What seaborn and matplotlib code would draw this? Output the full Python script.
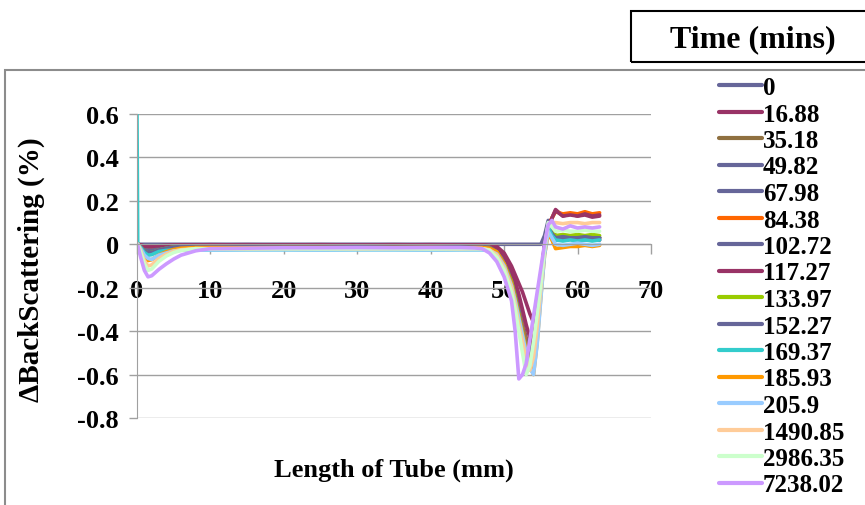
import numpy as np
import pandas as pd
import matplotlib
matplotlib.use("Agg")
import matplotlib.pyplot as plt
import seaborn as sns
from matplotlib.patches import Rectangle

# positions along the tube (mm), shared by every scan
length_mm = [0, 0.1, 0.5, 1, 1.5, 2, 2.5, 3, 4, 5, 6, 8, 10, 15, 20, 25, 30, 35, 40, 44,
             46, 47, 48, 49, 50, 51, 51.5, 52, 52.5, 53, 53.5, 54, 54.5, 55, 55.5, 56, 56.5,
             57, 58, 59, 60, 61, 62, 63]

times = ['0', '16.88', '35.18', '49.82', '67.98', '84.38', '102.72', '117.27', '133.97',
         '152.27', '169.37', '185.93', '205.9', '1490.85', '2986.35', '7238.02']

colors = ['#666699', '#993366', '#8f7040', '#666699', '#666699', '#ff6600', '#666699',
          '#993366', '#99cc00', '#666699', '#33cccc', '#ff9900', '#99ccff', '#ffcc99',
          '#ccffcc', '#cc99ff']

bs_0 = [0, 0, 0, 0, 0, 0, 0, 0, 0, 0, 0,
        0, 0, 0, 0, 0, 0, 0, 0, 0, 0,
        0, 0, 0, 0, 0, 0, 0, 0, 0, 0, 0, 0, 0, 0.04, 0.11, 0.05,
        0.03, 0.02, 0.025, 0.02, 0.025, 0.02, 0.02]
bs_16_88 = [0, 0, -0.003, -0.008, -0.01, -0.01, -0.008, -0.007, -0.005, -0.004, -0.003,
            -0.003, -0.003, -0.002, -0.003, -0.003, -0.003, -0.002, -0.003, -0.003, -0.003,
            -0.003, -0.005, -0.01, -0.04, -0.1, -0.14, -0.18, -0.22, -0.27, -0.32, -0.36, -0.3, -0.15, 0.0, 0.08, 0.12,
            0.16, 0.13, 0.14, 0.13, 0.135, 0.125, 0.13]
bs_35_18 = [0, 0, -0.005, -0.011, -0.015, -0.014, -0.012, -0.01, -0.008, -0.007, -0.006,
            -0.006, -0.005, -0.005, -0.006, -0.005, -0.005, -0.006, -0.005, -0.005, -0.006,
            -0.006, -0.008, -0.02, -0.06, -0.14, -0.2, -0.28, -0.36, -0.43, -0.48, -0.44, -0.32, -0.16, -0.01, 0.08, 0.07,
            0.04, 0.03, 0.035, 0.03, 0.03, 0.035, 0.03]
bs_49_82 = [0, 0, -0.006, -0.015, -0.02, -0.019, -0.016, -0.013, -0.01, -0.008, -0.007,
            -0.007, -0.006, -0.006, -0.007, -0.006, -0.006, -0.007, -0.006, -0.006, -0.007,
            -0.007, -0.01, -0.025, -0.07, -0.15, -0.21, -0.29, -0.37, -0.45, -0.5, -0.46, -0.33, -0.17, -0.01, 0.1, 0.06,
            0.03, 0.025, 0.03, 0.025, 0.03, 0.025, 0.03]
bs_67_98 = [0, 0, -0.006, -0.015, -0.02, -0.019, -0.016, -0.013, -0.01, -0.008, -0.007,
            -0.007, -0.007, -0.006, -0.007, -0.007, -0.006, -0.007, -0.007, -0.006, -0.007,
            -0.007, -0.01, -0.025, -0.07, -0.16, -0.22, -0.3, -0.38, -0.46, -0.52, -0.47, -0.34, -0.17, -0.02, 0.09, 0.05,
            0.02, 0.02, 0.025, 0.02, 0.02, 0.025, 0.02]
bs_84_38 = [0, 0, -0.009, -0.022, -0.03, -0.028, -0.024, -0.02, -0.015, -0.011, -0.009,
            -0.009, -0.008, -0.008, -0.009, -0.008, -0.008, -0.009, -0.008, -0.008, -0.009,
            -0.009, -0.012, -0.03, -0.08, -0.16, -0.22, -0.3, -0.38, -0.46, -0.53, -0.55, -0.4, -0.2, -0.03, 0.08, 0.12,
            0.15, 0.14, 0.145, 0.14, 0.15, 0.14, 0.145]
bs_102_72 = [0, 0, -0.009, -0.022, -0.03, -0.028, -0.024, -0.02, -0.015, -0.011, -0.009,
             -0.009, -0.009, -0.008, -0.009, -0.009, -0.008, -0.009, -0.009, -0.008, -0.009,
             -0.009, -0.012, -0.03, -0.08, -0.16, -0.22, -0.3, -0.39, -0.47, -0.53, -0.5, -0.36, -0.18, -0.02, 0.09, 0.06,
             0.035, 0.03, 0.035, 0.03, 0.03, 0.035, 0.03]
bs_117_27 = [0, 0, -0.003, -0.008, -0.01, -0.01, -0.008, -0.007, -0.005, -0.004, -0.003,
             -0.003, -0.002, -0.003, -0.003, -0.002, -0.003, -0.003, -0.002, -0.003, -0.003,
             -0.003, -0.006, -0.015, -0.05, -0.12, -0.17, -0.23, -0.3, -0.37, -0.43, -0.45, -0.34, -0.17, -0.01, 0.08, 0.12,
             0.155, 0.13, 0.135, 0.13, 0.14, 0.13, 0.135]
bs_133_97 = [0, 0, -0.012, -0.03, -0.04, -0.038, -0.032, -0.026, -0.018, -0.013, -0.01,
             -0.01, -0.01, -0.009, -0.01, -0.01, -0.009, -0.01, -0.01, -0.009, -0.01,
             -0.01, -0.014, -0.035, -0.09, -0.17, -0.24, -0.32, -0.4, -0.48, -0.55, -0.52, -0.37, -0.19, -0.02, 0.09, 0.06,
             0.04, 0.045, 0.04, 0.045, 0.04, 0.045, 0.04]
bs_152_27 = [0, 0, -0.012, -0.03, -0.04, -0.038, -0.032, -0.026, -0.018, -0.013, -0.01,
             -0.01, -0.01, -0.01, -0.01, -0.01, -0.01, -0.01, -0.01, -0.01, -0.01,
             -0.01, -0.014, -0.035, -0.09, -0.18, -0.25, -0.33, -0.41, -0.49, -0.56, -0.53, -0.38, -0.19, -0.02, 0.09, 0.05,
             0.03, 0.035, 0.03, 0.03, 0.035, 0.03, 0.03]
bs_169_37 = [0.6, 0, -0.015, -0.038, -0.05, -0.048, -0.04, -0.033, -0.028, -0.026, -0.025,
             -0.025, -0.026, -0.025, -0.025, -0.026, -0.025, -0.025, -0.026, -0.025, -0.025,
             -0.025, -0.028, -0.045, -0.1, -0.19, -0.26, -0.34, -0.42, -0.5, -0.57, -0.55, -0.4, -0.2, -0.03, 0.08, 0.04,
             0.02, 0.015, 0.02, 0.015, 0.02, 0.015, 0.02]
bs_185_93 = [0, 0, -0.022, -0.056, -0.075, -0.071, -0.06, -0.049, -0.034, -0.024, -0.018,
             -0.015, -0.015, -0.016, -0.015, -0.015, -0.016, -0.015, -0.015, -0.016, -0.015,
             -0.015, -0.018, -0.035, -0.09, -0.18, -0.25, -0.33, -0.41, -0.49, -0.56, -0.6, -0.45, -0.24, -0.05, 0.05, 0.02,
             -0.02, -0.015, -0.01, -0.01, -0.005, -0.01, -0.005]
bs_205_9 = [0, 0, -0.02, -0.05, -0.065, -0.07, -0.06, -0.05, -0.04, -0.03, -0.028,
            -0.025, -0.026, -0.025, -0.025, -0.026, -0.025, -0.025, -0.026, -0.025, -0.025,
            -0.025, -0.028, -0.045, -0.1, -0.19, -0.26, -0.34, -0.42, -0.5, -0.57, -0.6, -0.46, -0.25, -0.05, 0.06, 0.03,
            0.0, -0.005, 0.0, 0.005, 0.0, -0.005, 0.0]
bs_1490_85 = [0, 0, -0.03, -0.075, -0.1, -0.095, -0.08, -0.065, -0.045, -0.032, -0.025,
              -0.02, -0.02, -0.021, -0.02, -0.02, -0.021, -0.02, -0.02, -0.021, -0.02,
              -0.02, -0.025, -0.05, -0.11, -0.2, -0.28, -0.37, -0.45, -0.53, -0.58, -0.52, -0.38, -0.2, -0.02, 0.09, 0.1,
              0.1, 0.095, 0.1, 0.1, 0.095, 0.1, 0.1]
bs_2986_35 = [0, 0, -0.036, -0.09, -0.12, -0.114, -0.096, -0.078, -0.054, -0.038, -0.028,
              -0.02, -0.021, -0.02, -0.02, -0.021, -0.02, -0.02, -0.021, -0.02, -0.02,
              -0.02, -0.028, -0.06, -0.12, -0.22, -0.3, -0.4, -0.5, -0.6, -0.56, -0.45, -0.32, -0.18, -0.02, 0.1, 0.08,
              0.06, 0.065, 0.06, 0.06, 0.065, 0.06, 0.06]
bs_7238_02 = [0, -0.005, -0.06, -0.12, -0.15, -0.145, -0.13, -0.115, -0.09, -0.068, -0.05,
              -0.03, -0.02, -0.018, -0.016, -0.016, -0.015, -0.016, -0.015, -0.015, -0.017,
              -0.02, -0.04, -0.08, -0.15, -0.26, -0.4, -0.62, -0.6, -0.55, -0.44, -0.33, -0.22, -0.11, 0.0, 0.09, 0.11,
              0.08, 0.07, 0.085, 0.075, 0.08, 0.075, 0.08]

series = [bs_0, bs_16_88, bs_35_18, bs_49_82, bs_67_98, bs_84_38, bs_102_72, bs_117_27,
          bs_133_97, bs_152_27, bs_169_37, bs_185_93, bs_205_9, bs_1490_85, bs_2986_35, bs_7238_02]

rows = []
for t, vals in zip(times, series):
    for x, v in zip(length_mm, vals):
        rows.append((t, x, v))
df = pd.DataFrame(rows, columns=['Time', 'Length', 'dBS'])

sns.set_style('white')
plt.rcParams['font.family'] = ['Liberation Serif', 'DejaVu Serif']
plt.rcParams['font.weight'] = 'bold'
plt.rcParams['text.color'] = 'black'
plt.rcParams['axes.labelcolor'] = 'black'

W, H = 865, 506
fig = plt.figure(figsize=(W / 100, H / 100), dpi=100)
ax = fig.add_axes([137 / W, 1 - 419 / H, (651 - 137) / W, (419 - 115) / H])

sns.lineplot(data=df, x='Length', y='dBS', hue='Time', hue_order=times, palette=colors,
             estimator=None, sort=False, lw=2.6, ax=ax)

ax.set_xlim(0, 70)
ax.set_ylim(-0.8, 0.6)
ax.set_xticks(np.arange(0, 71, 10))
ax.set_yticks(np.round(np.arange(-0.8, 0.61, 0.2), 1))
ax.set_yticklabels(['-0.8', '-0.6', '-0.4', '-0.2', '0', '0.2', '0.4', '0.6'])
ax.grid(axis='y', color='#a0a0a0', lw=1)
ax.set_axisbelow(True)
for s in ['top', 'right']:
    ax.spines[s].set_visible(False)
ax.spines['bottom'].set_position(('data', 0))
ax.spines['bottom'].set_color('#a0a0a0')
ax.spines['left'].set_color('#a0a0a0')
ax.tick_params(axis='x', direction='out', length=7, width=1, color='#a0a0a0', pad=18,
               labelsize=19, labelcolor='black', bottom=True)
ax.tick_params(axis='y', direction='out', length=6, width=1, color='#a0a0a0', pad=7,
               labelsize=19, labelcolor='black', left=True)
for lab in ax.get_xticklabels() + ax.get_yticklabels():
    lab.set_fontweight('bold')

ax.set_xlabel('Length of Tube (mm)', fontsize=19, fontweight='bold')
ax.set_ylabel('ΔBackScattering (%)', fontsize=21, fontweight='bold')
ax.xaxis.set_label_coords(0.5, -0.168)
ax.xaxis.label.set_va('center')
ax.yaxis.set_label_coords(-0.205, 0.49)
ax.yaxis.label.set_va('center')

handles, labels = ax.get_legend_handles_labels()
ax.get_legend().remove()
for h in handles:
    h.set_linewidth(3)
fig.legend(handles, labels, loc='upper left', bbox_to_anchor=(719 / W, 1 - 77 / H),
           frameon=False, handlelength=1.7, handletextpad=0.05,
           labelspacing=0.14, borderpad=0, borderaxespad=0,
           prop={'weight': 'bold', 'size': 18})

# chart area border and the legend title box
fig.patches.append(Rectangle((5 / W, -0.01), 1.0, 1 - 71 / H + 0.01, transform=fig.transFigure,
                             fill=False, edgecolor='#8c8c8c', lw=1.5))
fig.patches.append(Rectangle((631 / W, 1 - 63 / H), 0.3, 51 / H, transform=fig.transFigure,
                             fill=False, edgecolor='black', lw=1.5))
fig.text(753 / W, 1 - 40 / H, 'Time (mins)', ha='center', va='center', fontsize=23,
         fontweight='bold')

fig.savefig('out.png', dpi=100)
